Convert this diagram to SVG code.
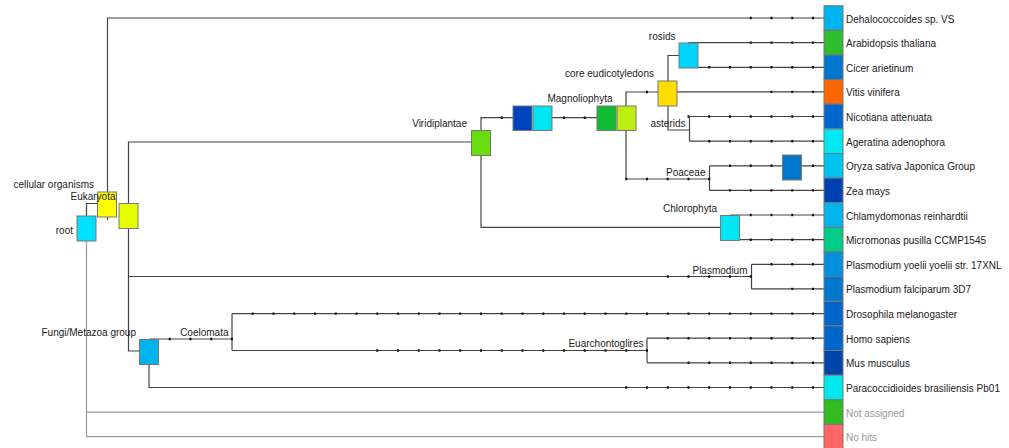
<svg xmlns="http://www.w3.org/2000/svg" width="1009" height="448" viewBox="0 0 1009 448">
  <style>
    text { font-family: "Liberation Sans", Arial, sans-serif; font-size: 10px; fill: #222; }
    .lbl { text-anchor: end; }
    .dim { fill: #999; }
    .e { fill: none; stroke: #444; stroke-width: 1.2; }
    .eg { fill: none; stroke: #999; stroke-width: 1.2; }
    .tk { fill: none; stroke: #111; stroke-width: 2.4; stroke-dasharray: 2 18.75; }
    .nb { stroke: #777; stroke-width: 1; }
  </style>

  <rect width="1009" height="448" fill="#fff"/>

  <!-- tree edges -->
  <g id="connectors">
    <!-- root -->
    <path class="e" d="M86.5 216 V203.5 H97.5"/>
    <path class="eg" d="M86.5 241 V436.7 M86.5 412.1 H824 M86.5 436.7 H824"/>
    <!-- cellular organisms -->
    <path class="e" d="M107.5 192 V18 H824"/>
    <path class="e" d="M107.5 217 V220"/>
    <!-- Eukaryota -->
    <path class="e" d="M128.5 203.5 V142 H471.5"/>
    <path class="e" d="M128.5 228.5 V351 H139.5"/>
    <path class="e" d="M128.5 276.5 H751.5"/>
    <!-- Plasmodium -->
    <path class="e" d="M751.5 264.3 V288.9 M751.5 264.3 H824 M751.5 288.9 H824"/>
    <!-- Fungi/Metazoa group -->
    <path class="e" d="M149 339 H232"/>
    <path class="e" d="M149 364.5 V387.5 H824"/>
    <!-- Coelomata -->
    <path class="e" d="M232 313.6 V350.5 M232 313.6 H824 M232 350.5 H647"/>
    <!-- Euarchontoglires -->
    <path class="e" d="M647 338.2 V362.8 M647 338.2 H824 M647 362.8 H824"/>
    <!-- Viridiplantae -->
    <path class="e" d="M481 130.5 V117.7 H513"/>
    <path class="e" d="M552 117.7 H597"/>
    <path class="e" d="M481 155.5 V227.3 H720.5"/>
    <!-- Magnoliophyta -->
    <path class="e" d="M626 106 V92 H658"/>
    <path class="e" d="M626 130 V179 H709.5"/>
    <!-- core eudicotyledons -->
    <path class="e" d="M677 91.9 H824"/>
    <path class="e" d="M668 81 V55.5 H679"/>
    <path class="e" d="M668 106 V130 H689.5"/>
    <!-- rosids -->
    <path class="e" d="M688.5 42.6 H824 M688.5 67.3 H824"/>
    <!-- asterids -->
    <path class="e" d="M689.5 116.5 V141.2 M689.5 116.5 H824 M689.5 141.2 H824"/>
    <!-- Poaceae -->
    <path class="e" d="M709.5 165.8 V190.4 M709.5 165.8 H824 M709.5 190.4 H824"/>
    <!-- Chlorophyta -->
    <path class="e" d="M730 215 H824 M730 239.7 H824"/>

    <!-- scale ticks along edges -->
    <path class="tk" d="M749.75 18 H814"/>
    <path class="tk" d="M749.75 42.6 H814"/>
    <path class="tk" d="M708.25 67.3 H814"/>
    <path class="tk" d="M770.5 91.9 H814"/>
    <path class="tk" d="M646 92 H648"/>
    <path class="tk" d="M687.5 116.5 H814"/>
    <path class="tk" d="M708.25 141.2 H814"/>
    <path class="tk" d="M729 165.8 H814"/>
    <path class="tk" d="M729 190.4 H814"/>
    <path class="tk" d="M749.75 215 H814"/>
    <path class="tk" d="M749.75 239.7 H814"/>
    <path class="tk" d="M770.5 264.3 H814"/>
    <path class="tk" d="M791.25 288.9 H814"/>
    <path class="tk" d="M251.75 313.6 H814"/>
    <path class="tk" d="M666.75 338.2 H814"/>
    <path class="tk" d="M687.5 362.8 H814"/>
    <path class="tk" d="M625.25 387.5 H814"/>
    <path class="tk" d="M625.25 179 H710.5"/>
    <path class="tk" d="M666.75 276.5 H752"/>
    <path class="tk" d="M168.75 339 H233"/>
    <path class="tk" d="M376.25 350.5 H648"/>
    <path class="tk" d="M500.75 117.7 H503"/>
    <path class="tk" d="M563 117.7 H586"/>
  </g>

  <!-- internal nodes -->
  <g id="n-root"><rect class="nb" x="77" y="216" width="19" height="25" fill="#00e0ff"/><text class="lbl" x="73" y="234">root</text></g>
  <g id="n-cellular"><rect class="nb" x="97.5" y="192" width="19" height="25" fill="#ffff00"/><text class="lbl" x="94" y="188">cellular organisms</text></g>
  <g id="n-eukaryota"><rect class="nb" x="119" y="203.5" width="19" height="25" fill="#e6ff00"/><text x="70.5" y="199.5">Eukaryota</text></g>
  <g id="n-viridiplantae"><rect class="nb" x="471.5" y="130.5" width="19" height="25" fill="#66dd11"/><text class="lbl" x="467" y="127">Viridiplantae</text></g>
  <g id="n-streptophyta"><rect class="nb" x="513" y="106" width="19" height="24.5" fill="#0044bb"/></g>
  <g id="n-embryophyta"><rect class="nb" x="533" y="106" width="19" height="24.5" fill="#00e6f5"/></g>
  <g id="n-magnoliophyta"><rect class="nb" x="597" y="106" width="19" height="24.5" fill="#11bb33"/><text class="lbl" x="612.5" y="102">Magnoliophyta</text></g>
  <g id="n-eudicot"><rect class="nb" x="617" y="106" width="19" height="24.5" fill="#bbee11"/></g>
  <g id="n-core-eudicot"><rect class="nb" x="658" y="81" width="19" height="25" fill="#ffdd00"/><text class="lbl" x="654" y="77">core eudicotyledons</text></g>
  <g id="n-rosids"><rect class="nb" x="679" y="43" width="19" height="25" fill="#00d4ff"/><text class="lbl" x="675.5" y="39.5">rosids</text></g>
  <g id="n-asterids"><text class="lbl" x="685.5" y="126.5">asterids</text></g>
  <g id="n-poaceae"><text class="lbl" x="705.5" y="176">Poaceae</text></g>
  <g id="n-oryza-group"><rect class="nb" x="782.5" y="155" width="19" height="25" fill="#0077cc"/></g>
  <g id="n-chlorophyta"><rect class="nb" x="720.5" y="215.5" width="19" height="25" fill="#00e6f5"/><text class="lbl" x="717" y="212">Chlorophyta</text></g>
  <g id="n-plasmodium"><text class="lbl" x="747.5" y="273.5">Plasmodium</text></g>
  <g id="n-fungi-metazoa"><rect class="nb" x="139.5" y="339.5" width="19" height="25" fill="#00b2ee"/><text class="lbl" x="136" y="335.5">Fungi/Metazoa group</text></g>
  <g id="n-coelomata"><text class="lbl" x="228.5" y="335.5">Coelomata</text></g>
  <g id="n-euarchontoglires"><text class="lbl" x="643.5" y="347">Euarchontoglires</text></g>

  <!-- leaves -->
  <g id="l-dehalococcoides"><rect class="nb" x="824" y="5.7" width="19" height="24.6" fill="#00b2ee"/><text x="846" y="22.5">Dehalococcoides sp. VS</text></g>
  <g id="l-arabidopsis"><rect class="nb" x="824" y="30.3" width="19" height="24.6" fill="#2dbd2d"/><text x="846" y="47.1">Arabidopsis thaliana</text></g>
  <g id="l-cicer"><rect class="nb" x="824" y="55" width="19" height="24.6" fill="#0077cc"/><text x="846" y="71.8">Cicer arietinum</text></g>
  <g id="l-vitis"><rect class="nb" x="824" y="79.6" width="19" height="24.6" fill="#ff6600"/><text x="846" y="96.4">Vitis vinifera</text></g>
  <g id="l-nicotiana"><rect class="nb" x="824" y="104.2" width="19" height="24.6" fill="#0066cc"/><text x="846" y="121">Nicotiana attenuata</text></g>
  <g id="l-ageratina"><rect class="nb" x="824" y="128.9" width="19" height="24.6" fill="#00e8f4"/><text x="846" y="145.7">Ageratina adenophora</text></g>
  <g id="l-oryza"><rect class="nb" x="824" y="153.5" width="19" height="24.6" fill="#00c4f0"/><text x="846" y="170.3">Oryza sativa Japonica Group</text></g>
  <g id="l-zea"><rect class="nb" x="824" y="178.1" width="19" height="24.6" fill="#0040b0"/><text x="846" y="194.9">Zea mays</text></g>
  <g id="l-chlamydomonas"><rect class="nb" x="824" y="202.7" width="19" height="24.6" fill="#00b4ee"/><text x="846" y="219.5">Chlamydomonas reinhardtii</text></g>
  <g id="l-micromonas"><rect class="nb" x="824" y="227.4" width="19" height="24.6" fill="#00cc88"/><text x="846" y="244.2">Micromonas pusilla CCMP1545</text></g>
  <g id="l-p-yoelii"><rect class="nb" x="824" y="252" width="19" height="24.6" fill="#0090dd"/><text x="846" y="268.8">Plasmodium yoelii yoelii str. 17XNL</text></g>
  <g id="l-p-falciparum"><rect class="nb" x="824" y="276.6" width="19" height="24.6" fill="#0077cc"/><text x="846" y="293.4">Plasmodium falciparum 3D7</text></g>
  <g id="l-drosophila"><rect class="nb" x="824" y="301.3" width="19" height="24.6" fill="#0066cc"/><text x="846" y="318.1">Drosophila melanogaster</text></g>
  <g id="l-homo"><rect class="nb" x="824" y="325.9" width="19" height="24.6" fill="#0066cc"/><text x="846" y="342.7">Homo sapiens</text></g>
  <g id="l-mus"><rect class="nb" x="824" y="350.5" width="19" height="24.6" fill="#0044aa"/><text x="846" y="367.3">Mus musculus</text></g>
  <g id="l-paracoccidioides"><rect class="nb" x="824" y="375.2" width="19" height="24.6" fill="#00e8ee"/><text x="846" y="392">Paracoccidioides brasiliensis Pb01</text></g>
  <g id="l-not-assigned"><rect class="nb" x="824" y="399.8" width="19" height="24.6" fill="#33bb22"/><text class="dim" x="846" y="416.6">Not assigned</text></g>
  <g id="l-no-hits"><rect class="nb" x="824" y="424.4" width="19" height="24.6" fill="#ff6666"/><text class="dim" x="846" y="441.2">No hits</text></g>
</svg>
